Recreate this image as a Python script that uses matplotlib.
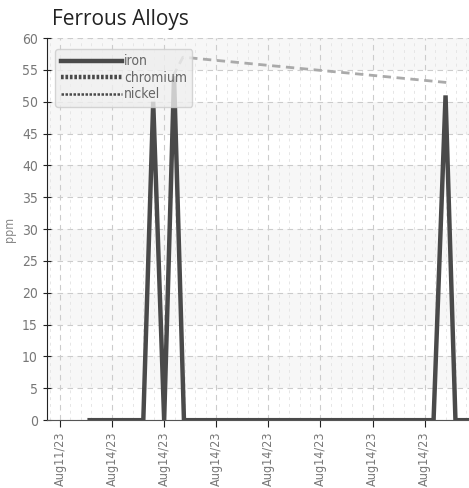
import matplotlib.pyplot as plt
from matplotlib.lines import Line2D
from matplotlib.ticker import MultipleLocator

# x positions are in tick units (0 = first date label)
tick_labels = ['Aug11/23', 'Aug14/23', 'Aug14/23', 'Aug14/23', 'Aug14/23',
               'Aug14/23', 'Aug14/23', 'Aug14/23']

iron_x = [0.57, 1.60, 1.79, 2.00, 2.19, 2.38, 7.17, 7.40, 7.59, 7.85]
iron_y = [0, 0, 50, 0, 54, 0, 0, 51, 0, 0]

nickel_x = [2.17, 2.36, 7.45]
nickel_y = [54, 57, 53]

plt.rcParams['font.family'] = ['DejaVu Sans']
plt.rcParams['font.stretch'] = 'condensed'

fig = plt.figure(figsize=(4.69, 4.88), dpi=100)
ax = fig.add_axes([0.1, 0.139, 0.9, 0.783])

# alternating light bands
for lo in range(5, 60, 10):
    ax.axhspan(lo, lo + 5, color='#f7f7f7', zorder=0, lw=0)

ax.plot(nickel_x, nickel_y, color='#aaaaaa', lw=2, ls=(0, (3, 2)), zorder=2)
ax.plot(iron_x, iron_y, color='#4a4a4a', lw=3.2, zorder=3, solid_joinstyle='miter')

ax.set_xlim(-0.25, 7.85)
ax.set_ylim(0, 60)
ax.yaxis.set_major_locator(MultipleLocator(5))
ax.set_xticks(range(len(tick_labels)))
ax.set_xticklabels(tick_labels, rotation=90)
ax.xaxis.set_minor_locator(MultipleLocator(0.2))

ax.grid(which='major', axis='both', color='#cccccc', ls=(0, (5, 4)), lw=0.8)
ax.grid(which='minor', axis='x', color='#e6e6e6', ls=(0, (3, 4)), lw=0.7)
ax.set_axisbelow(True)

for s in ['top', 'right']:
    ax.spines[s].set_visible(False)
ax.spines['left'].set_color('#222222')
ax.spines['bottom'].set_color('#555555')
ax.tick_params(axis='y', direction='inout', length=6, colors='#222222',
               labelcolor='#777777', labelsize=10)
ax.tick_params(axis='x', direction='out', length=5, colors='#222222',
               labelcolor='#777777', labelsize=9)
ax.tick_params(axis='x', which='minor', length=0)

ax.set_ylabel('ppm', color='#888888', fontsize=9, labelpad=4)
fig.text(0.111, 0.96, 'Ferrous Alloys', fontsize=15, color='#222222',
         family='Open Sans', stretch='normal', va='center')

handles = [Line2D([], [], color='#4a4a4a', lw=3.2),
           Line2D([], [], color='#4a4a4a', lw=3.2, ls=(0, (0.6, 0.4))),
           Line2D([], [], color='#4a4a4a', lw=1.8, ls=(0, (1, 0.6)))]
leg = ax.legend(handles, ['iron', 'chromium', 'nickel'], loc='upper left',
                bbox_to_anchor=(0.003, 0.99), handlelength=4.4, handletextpad=0.15,
                labelspacing=0.18, fontsize=10, fancybox=True, framealpha=0.8,
                borderpad=0.4, labelcolor='#666666')
leg.get_frame().set_facecolor('#eeeeee')
leg.get_frame().set_edgecolor('#cccccc')

fig.savefig('out.png', dpi=100)
